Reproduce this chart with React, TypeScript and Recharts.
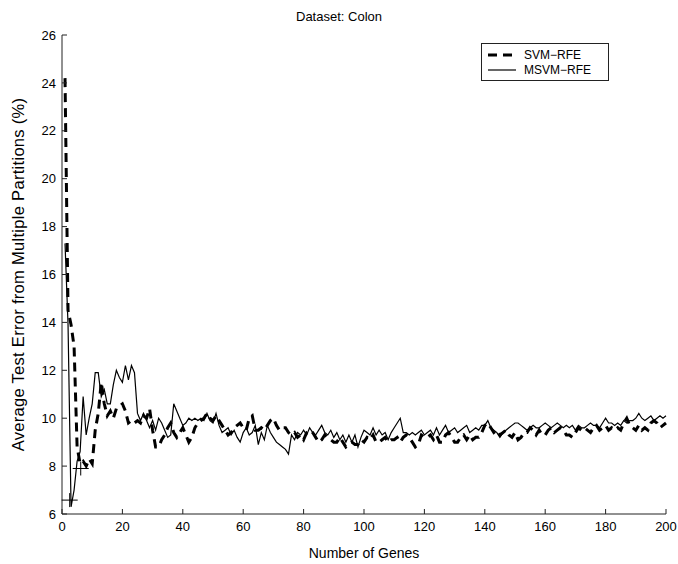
import React from 'react';
import { ComposedChart, Line, XAxis, YAxis, ReferenceDot } from 'recharts';

// Average test error (%) for 1..200 genes
const svmRfe = [
  24.2, 14.5, 13.9, 13.0, 8.8, 8.1, 8.2, 8.0, 8.3, 8.1,
  9.5, 10.2, 11.5, 10.6, 10.1, 10.3, 10.0, 10.4, 10.5, 10.6,
  10.3, 9.8, 9.9, 9.8, 9.9, 9.8, 10.1, 10.0, 10.4, 9.5,
  8.8, 8.8, 9.1, 9.3, 9.6, 9.8, 9.4, 9.2, 9.4, 9.6,
  9.3, 9.0, 9.2, 9.6, 9.8, 9.9, 10.0, 10.2, 10.0, 9.9,
  10.1, 9.9, 9.7, 9.5, 9.3, 9.4, 9.6, 9.7, 9.8, 9.6,
  9.5, 10.0, 10.1, 9.5, 9.5, 9.6, 9.5, 9.7, 9.9, 10.0,
  9.7, 9.5, 9.6, 9.6, 9.4, 9.3, 9.4, 9.2, 9.3, 9.1,
  9.4, 9.5, 9.4, 9.2, 9.0, 9.1, 9.3, 9.2, 9.1, 9.0,
  9.0, 9.2, 9.0, 8.8, 8.9, 9.0, 8.9, 8.9, 9.1, 9.0,
  9.2, 9.1, 9.3, 9.0, 9.0, 9.1, 9.2, 9.0, 9.1, 9.1,
  9.2, 9.0, 9.2, 9.3, 9.2, 9.0, 8.8, 8.9, 9.3, 9.2,
  9.2, 9.3, 9.1, 9.3, 9.0, 9.0, 9.3, 9.4, 9.2, 9.0,
  9.0, 9.2, 9.3, 9.1, 9.3, 9.1, 9.2, 9.2, 9.4, 9.7,
  9.8, 9.6, 9.4, 9.5, 9.3, 9.4, 9.5, 9.3, 9.2, 9.4,
  9.1, 9.2, 9.4, 9.4, 9.6, 9.5, 9.3, 9.5, 9.3, 9.3,
  9.5, 9.6, 9.4, 9.5, 9.6, 9.5, 9.3, 9.3, 9.2, 9.4,
  9.6, 9.5, 9.6, 9.5, 9.4, 9.6, 9.7, 9.5, 9.6, 9.7,
  9.5, 9.6, 9.5, 9.6, 9.5, 9.8, 10.0, 9.7, 9.6, 9.5,
  9.7, 9.5, 9.6, 9.5, 9.8, 9.9, 9.8, 9.6, 9.7, 9.8,
];

const msvmRfe = [
  17.3, 13.9, 6.3, 7.0, 8.2, 8.6, 10.9, 9.3, 10.0, 10.6,
  11.9, 11.9, 10.9, 11.2, 10.6, 10.6, 11.4, 12.0, 11.7, 11.5,
  12.2, 11.6, 12.2, 11.9, 10.2, 9.9, 10.2, 9.9, 9.6, 9.9,
  9.5, 10.0, 9.8, 9.5, 9.2, 9.3, 10.6, 10.3, 10.0, 9.7,
  9.8, 10.0, 9.9, 10.0, 9.9, 10.0, 9.9, 10.2, 9.9, 9.8,
  10.2, 9.7, 9.4, 9.5, 9.6, 9.3, 9.5, 9.2, 9.0, 9.4,
  9.6, 9.3, 9.4, 9.7, 8.9, 9.4, 9.1, 9.7, 9.4, 9.2,
  9.0, 8.9, 8.8, 8.7, 8.5, 9.3, 9.1, 9.4, 9.3, 9.5,
  9.3, 9.6, 9.4, 9.3, 9.5, 9.7, 9.4, 9.3, 9.5, 9.2,
  9.4, 9.1, 9.3, 9.0, 9.3, 9.0, 9.3, 8.8, 9.2, 9.5,
  9.4, 9.3, 9.6, 9.3, 9.5, 9.3, 9.4, 9.1, 9.4, 9.6,
  9.8, 10.0, 9.4, 9.4, 9.3, 9.4, 9.3, 9.4, 9.5, 9.3,
  9.4, 9.5, 9.3, 9.6, 9.3, 9.5, 9.7, 9.4, 9.5, 9.6,
  9.4, 9.5, 9.6, 9.7, 9.4, 9.5, 9.6, 9.5, 9.7, 9.7,
  9.9, 9.6, 9.5, 9.4, 9.2, 9.4, 9.5, 9.6, 9.7, 9.8,
  9.8, 9.7, 9.6, 9.5, 9.6, 9.7, 9.6, 9.6, 9.7, 9.8,
  9.7, 9.6, 9.7, 9.8, 9.7, 9.6, 9.7, 9.6, 9.7, 9.5,
  9.7, 9.6, 9.6, 9.7, 9.8, 9.7, 9.7, 9.6, 9.8, 10.0,
  9.8, 9.8, 9.7, 9.8, 9.7, 9.9, 9.8, 9.9, 9.9, 10.0,
  10.2, 10.0, 9.9, 10.0, 10.1, 9.9, 10.0, 10.1, 10.0, 10.1,
];

const geneCounts = svmRfe.map((_, i) => i + 1);

const xTicks = [0, 20, 40, 60, 80, 100, 120, 140, 160, 180, 200];
const yTicks = [6, 8, 10, 12, 14, 16, 18, 20, 22, 24, 26];

// "+" markers (minimum error points)
const markerGenes = [2.55, 6.2];
const markerErrors = [6.58, 7.9];

const data = geneCounts.map((g, i) => ({ gene: g, svm: svmRfe[i], msvm: msvmRfe[i] }));

const PlusMark = (props: any) => {
  const { cx, cy } = props;
  return (
    <g>
      <line x1={cx - 8} x2={cx + 8} y1={cy} y2={cy} stroke="#000" strokeWidth={1} />
      <line x1={cx} x2={cx} y1={cy - 7} y2={cy + 7} stroke="#000" strokeWidth={1} />
    </g>
  );
};

const FRAME = '#222';
const FONT = "'Liberation Sans', Arial, sans-serif";

export default function App() {
  return (
    <div style={{ position: 'absolute', left: 0, top: 0, width: 678, height: 564, background: '#fff', fontFamily: FONT }}>
      <div style={{ position: 'absolute', left: 0, width: 678, top: 9, textAlign: 'center', fontSize: 13, color: '#000' }}>
        Dataset: Colon
      </div>
      <ComposedChart width={678} height={564} data={data} margin={{ top: 35, right: 12, bottom: 0, left: 0 }}>
        <XAxis
          xAxisId="x"
          type="number"
          dataKey="gene"
          domain={[0, 200]}
          ticks={xTicks}
          height={50}
          tickSize={-5}
          tickMargin={13}
          tickLine={{ stroke: FRAME }}
          axisLine={{ stroke: FRAME }}
          tick={{ fill: '#000', fontSize: 13 }}
          label={{ value: 'Number of Genes', position: 'insideBottom', offset: 6, fill: '#000', fontSize: 14 }}
        />
        <YAxis
          yAxisId="y"
          type="number"
          domain={[6, 26]}
          ticks={yTicks}
          width={62}
          tickSize={-5}
          tickMargin={11}
          tickLine={{ stroke: FRAME }}
          axisLine={{ stroke: FRAME }}
          tick={{ fill: '#000', fontSize: 13 }}
          label={{ value: 'Average Test Error from Multiple Partitions (%)', angle: -90, position: 'insideLeft', offset: 18, fill: '#000', fontSize: 16.5, style: { textAnchor: 'middle', letterSpacing: '0.3px' } }}
        />
        <XAxis xAxisId="xt" type="number" dataKey="gene" domain={[0, 200]} ticks={xTicks} orientation="top" mirror height={0} tick={false} axisLine={{ stroke: FRAME }} tickSize={5} tickLine={{ stroke: FRAME }} />
        <YAxis yAxisId="yr" type="number" domain={[6, 26]} ticks={yTicks} orientation="right" mirror width={0} tick={false} axisLine={{ stroke: FRAME }} tickSize={5} tickLine={{ stroke: FRAME }} />
        <Line xAxisId="x" yAxisId="y" type="linear" dataKey="svm" stroke="#000" strokeWidth={3} strokeDasharray="9 6" dot={false} isAnimationActive={false} />
        <Line xAxisId="x" yAxisId="y" type="linear" dataKey="msvm" stroke="#000" strokeWidth={1.2} dot={false} isAnimationActive={false} />
        {markerGenes.map((g, i) => (
          <ReferenceDot key={i} xAxisId="x" yAxisId="y" x={g} y={markerErrors[i]} r={0} shape={PlusMark} />
        ))}
      </ComposedChart>
      <div style={{ position: 'absolute', left: 481, top: 43, width: 126, height: 36, border: '1px solid #222', background: '#fff', fontSize: 12, color: '#000' }}>
        <div style={{ position: 'absolute', left: 6, top: 4, display: 'flex', alignItems: 'center', height: 14 }}>
          <svg width={28} height={8}><line x1={0} x2={28} y1={4} y2={4} stroke="#000" strokeWidth={3} strokeDasharray="9 6" /></svg>
          <span style={{ marginLeft: 8 }}>SVM−RFE</span>
        </div>
        <div style={{ position: 'absolute', left: 6, top: 19, display: 'flex', alignItems: 'center', height: 14 }}>
          <svg width={28} height={8}><line x1={0} x2={28} y1={4} y2={4} stroke="#000" strokeWidth={1.2} /></svg>
          <span style={{ marginLeft: 8 }}>MSVM−RFE</span>
        </div>
      </div>
    </div>
  );
}
